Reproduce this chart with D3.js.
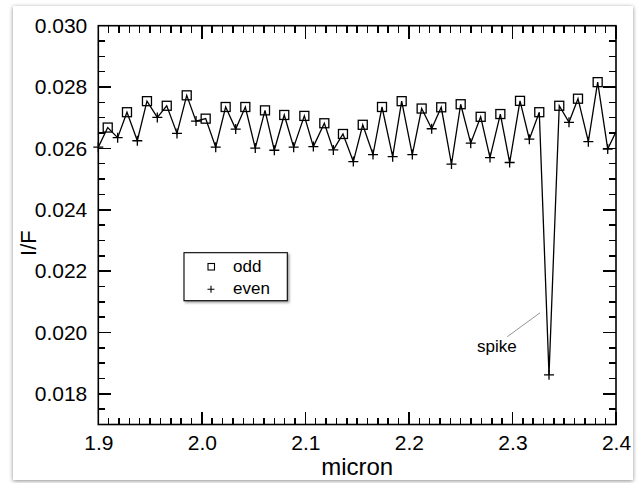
<!DOCTYPE html>
<html>
<head>
<meta charset="utf-8">
<script src="https://cdn.jsdelivr.net/npm/d3@7"></script>
<style>
  html, body { margin: 0; padding: 0; background: #ffffff; }
  svg { display: block; }
  text { font-family: "Liberation Sans", Arial, Helvetica, sans-serif; fill: #000; }
</style>
</head>
<body>
<svg id="chart" width="641" height="483"></svg>
<script>
// Wavelength (micron) and I/F for the even and odd channels
const evenX = [1.9000, 1.9187, 1.9377, 1.9570, 1.9760, 1.9944, 2.0134, 2.0327, 2.0516,
  2.0700, 2.0887, 2.1077, 2.1270, 2.1463, 2.1653, 2.1843, 2.2033, 2.2220, 2.2411,
  2.2597, 2.2783, 2.2973, 2.3163, 2.3353, 2.3546, 2.3733, 2.3920];
const evenY = [0.02604, 0.02635, 0.02625, 0.02701, 0.02649, 0.02689, 0.02604, 0.02663, 0.02601,
  0.02594, 0.02604, 0.02606, 0.02595, 0.02557, 0.02580, 0.02573, 0.02580, 0.02664, 0.02549,
  0.02617, 0.02570, 0.02554, 0.02630, 0.01862, 0.02685, 0.02622, 0.02598];
const oddX = [1.9091, 1.9277, 1.9470, 1.9661, 1.9854, 2.0037, 2.0230, 2.0420, 2.0610,
  2.0796, 2.0990, 2.1183, 2.1363, 2.1554, 2.1740, 2.1930, 2.2123, 2.2312, 2.2500,
  2.2693, 2.2883, 2.3073, 2.3259, 2.3452, 2.3633, 2.3823, 2.4013];
const oddY = [0.02668, 0.02718, 0.02754, 0.02739, 0.02773, 0.02697, 0.02735, 0.02735, 0.02724,
  0.02709, 0.02706, 0.02682, 0.02647, 0.02677, 0.02735, 0.02754, 0.02730, 0.02734, 0.02744,
  0.02703, 0.02712, 0.02755, 0.02718, 0.02739, 0.02762, 0.02816, 0.02663];

// Axis ticks and labels
const xMajorTicks = [1.9, 2.0, 2.1, 2.2, 2.3, 2.4];
const xTickLabels = ["1.9", "2.0", "2.1", "2.2", "2.3", "2.4"];
const yMajorTicks = [0.018, 0.020, 0.022, 0.024, 0.026, 0.028, 0.030];
const yTickLabels = ["0.018", "0.020", "0.022", "0.024", "0.026", "0.028", "0.030"];
const xMinorStep = 0.01;
const yMinorStep = 0.0005;

const legendLabels = ["odd", "even"];
const annotationText = "spike";
const spikeIndex = 23; // even channel with the spike

const svg = d3.select("#chart");

// Page panel and legend shadows
const defs = svg.append("defs");
const shadow = defs.append("filter").attr("id", "panelShadow")
  .attr("x", "-5%").attr("y", "-5%").attr("width", "110%").attr("height", "110%");
shadow.append("feDropShadow").attr("dx", 0).attr("dy", 1).attr("stdDeviation", 2)
  .attr("flood-color", "#000").attr("flood-opacity", 0.45);
const legShadow = defs.append("filter").attr("id", "legShadow")
  .attr("x", "-10%").attr("y", "-10%").attr("width", "130%").attr("height", "140%");
legShadow.append("feDropShadow").attr("dx", 1.5).attr("dy", 1.5).attr("stdDeviation", 1)
  .attr("flood-color", "#000").attr("flood-opacity", 0.4);

svg.append("rect").attr("x", 13).attr("y", 6).attr("width", 620).attr("height", 474)
  .attr("fill", "#fff").attr("filter", "url(#panelShadow)");

const x = d3.scaleLinear().domain([1.9, 2.4]).range([98.3, 616]);
const y = d3.scaleLinear().domain([0.017, 0.030]).range([424.5, 25.7]);
const [x0, x1] = x.range();
const [y0, y1] = y.range();

defs.append("clipPath").attr("id", "plotClip").append("rect")
  .attr("x", x0).attr("y", y1).attr("width", x1 - x0).attr("height", y0 - y1);

// Minor tick positions
const xMinor = d3.range(Math.round((2.4 - 1.9) / xMinorStep) + 1).map(i => 1.9 + i * xMinorStep);
const yMinor = d3.range(Math.round((0.030 - 0.017) / yMinorStep) + 1).map(i => 0.017 + i * yMinorStep);

const MAJ = 13, MIN = 7;

// Tick labels via d3 axes (lines suppressed; marks drawn at the end)
svg.append("g").attr("transform", `translate(0,${y0})`)
  .call(d3.axisBottom(x).tickValues(xMajorTicks).tickSize(0).tickPadding(11)
    .tickFormat((d, i) => xTickLabels[i]))
  .call(g => g.select(".domain").remove())
  .call(g => g.selectAll(".tick line").remove())
  .call(g => g.selectAll("text").attr("font-size", 21).attr("font-family", "Liberation Sans, Arial, sans-serif"));
svg.append("g").attr("transform", `translate(${x0},0)`)
  .call(d3.axisLeft(y).tickValues(yMajorTicks).tickSize(0).tickPadding(11)
    .tickFormat((d, i) => yTickLabels[i]))
  .call(g => g.select(".domain").remove())
  .call(g => g.selectAll(".tick line").remove())
  .call(g => g.selectAll("text").attr("font-size", 21).attr("font-family", "Liberation Sans, Arial, sans-serif"));

// Axis titles
svg.append("text").attr("x", (x0 + x1) / 2).attr("y", 475).attr("text-anchor", "middle")
  .attr("font-size", 24).text("micron");
svg.append("text").attr("transform", `translate(36,${(y0 + y1) / 2 + 18}) rotate(-90)`)
  .attr("text-anchor", "middle").attr("font-size", 22).text("I/F");

// Interleaved series joined by a single line
const evenPts = evenX.map((v, i) => ({ x: v, y: evenY[i], kind: "even" }));
const oddPts = oddX.map((v, i) => ({ x: v, y: oddY[i], kind: "odd" }));
const allPts = evenPts.concat(oddPts).sort((a, b) => a.x - b.x);

const plot = svg.append("g").attr("clip-path", "url(#plotClip)");
plot.append("path").datum(allPts)
  .attr("d", d3.line().x(d => x(d.x)).y(d => y(d.y)))
  .attr("fill", "none").attr("stroke", "#000").attr("stroke-width", 1.3)
  .attr("stroke-linejoin", "miter");

// Symbols: only those whose centre lies inside the x range
const inside = d => d.x <= 2.4 + 1e-9;
const SQ = 9, PL = 10;
svg.append("g").selectAll("rect").data(oddPts.filter(inside)).join("rect")
  .attr("x", d => x(d.x) - SQ / 2).attr("y", d => y(d.y) - SQ / 2)
  .attr("width", SQ).attr("height", SQ)
  .attr("fill", "none").attr("stroke", "#000").attr("stroke-width", 1.3);
svg.append("g").selectAll("path").data(evenPts.filter(inside)).join("path")
  .attr("d", d => {
    const cx = x(d.x), cy = y(d.y), h = PL / 2;
    return `M${cx - h},${cy}H${cx + h}M${cx},${cy - h}V${cy + h}`;
  })
  .attr("fill", "none").attr("stroke", "#000").attr("stroke-width", 1.3);

// Legend
const lg = svg.append("g");
lg.append("rect").attr("x", 184).attr("y", 252.7).attr("width", 103.3).attr("height", 48)
  .attr("fill", "#fff").attr("stroke", "#000").attr("stroke-width", 1.1)
  .attr("filter", "url(#legShadow)");
lg.append("rect").attr("x", 211 - 3).attr("y", 266.5 - 3).attr("width", 6.5).attr("height", 6.5)
  .attr("fill", "none").attr("stroke", "#000").attr("stroke-width", 1.1);
lg.append("path").attr("d", "M207.5,289.3H214.5M211,285.8V292.8")
  .attr("stroke", "#000").attr("stroke-width", 1.1);
lg.append("text").attr("x", 233).attr("y", 272).attr("font-size", 17).text(legendLabels[0]);
lg.append("text").attr("x", 233).attr("y", 293.5).attr("font-size", 17).text(legendLabels[1]);

// Annotation for the spike
const sp = evenPts[spikeIndex];
svg.append("line")
  .attr("x1", 507.3).attr("y1", 336.7)
  .attr("x2", x(sp.x) - 9).attr("y2", y(sp.y) - 62)
  .attr("stroke", "#888").attr("stroke-width", 0.9);
svg.append("text").attr("x", 477).attr("y", 351.5).attr("font-size", 17)
  .attr("font-family", "Open Sans, Liberation Sans, sans-serif").text(annotationText);

// Plot frame and inward tick marks on all four sides, drawn last
svg.append("rect").attr("x", x0).attr("y", y1).attr("width", x1 - x0).attr("height", y0 - y1)
  .attr("fill", "none").attr("stroke", "#000").attr("stroke-width", 1.6);

const tickG = svg.append("g").attr("class", "frame-ticks");
function addTicks(vals, scale, len, side) {
  tickG.append("g").selectAll("line").data(vals).join("line")
    .attr("stroke", "#000").attr("stroke-width", 1.5)
    .attr("shape-rendering", "crispEdges")
    .each(function (d) {
      const s = d3.select(this), v = scale(d);
      if (side === "bottom") s.attr("x1", v).attr("x2", v).attr("y1", y0).attr("y2", y0 - len);
      if (side === "top") s.attr("x1", v).attr("x2", v).attr("y1", y1).attr("y2", y1 + len);
      if (side === "left") s.attr("y1", v).attr("y2", v).attr("x1", x0).attr("x2", x0 + len);
      if (side === "right") s.attr("y1", v).attr("y2", v).attr("x1", x1).attr("x2", x1 - len);
    });
}
["bottom", "top"].forEach(side => {
  addTicks(xMinor, x, MIN, side);
  addTicks(xMajorTicks, x, MAJ, side);
});
["left", "right"].forEach(side => {
  addTicks(yMinor, y, MIN, side);
  addTicks(yMajorTicks, y, MAJ, side);
});
</script>
</body>
</html>
